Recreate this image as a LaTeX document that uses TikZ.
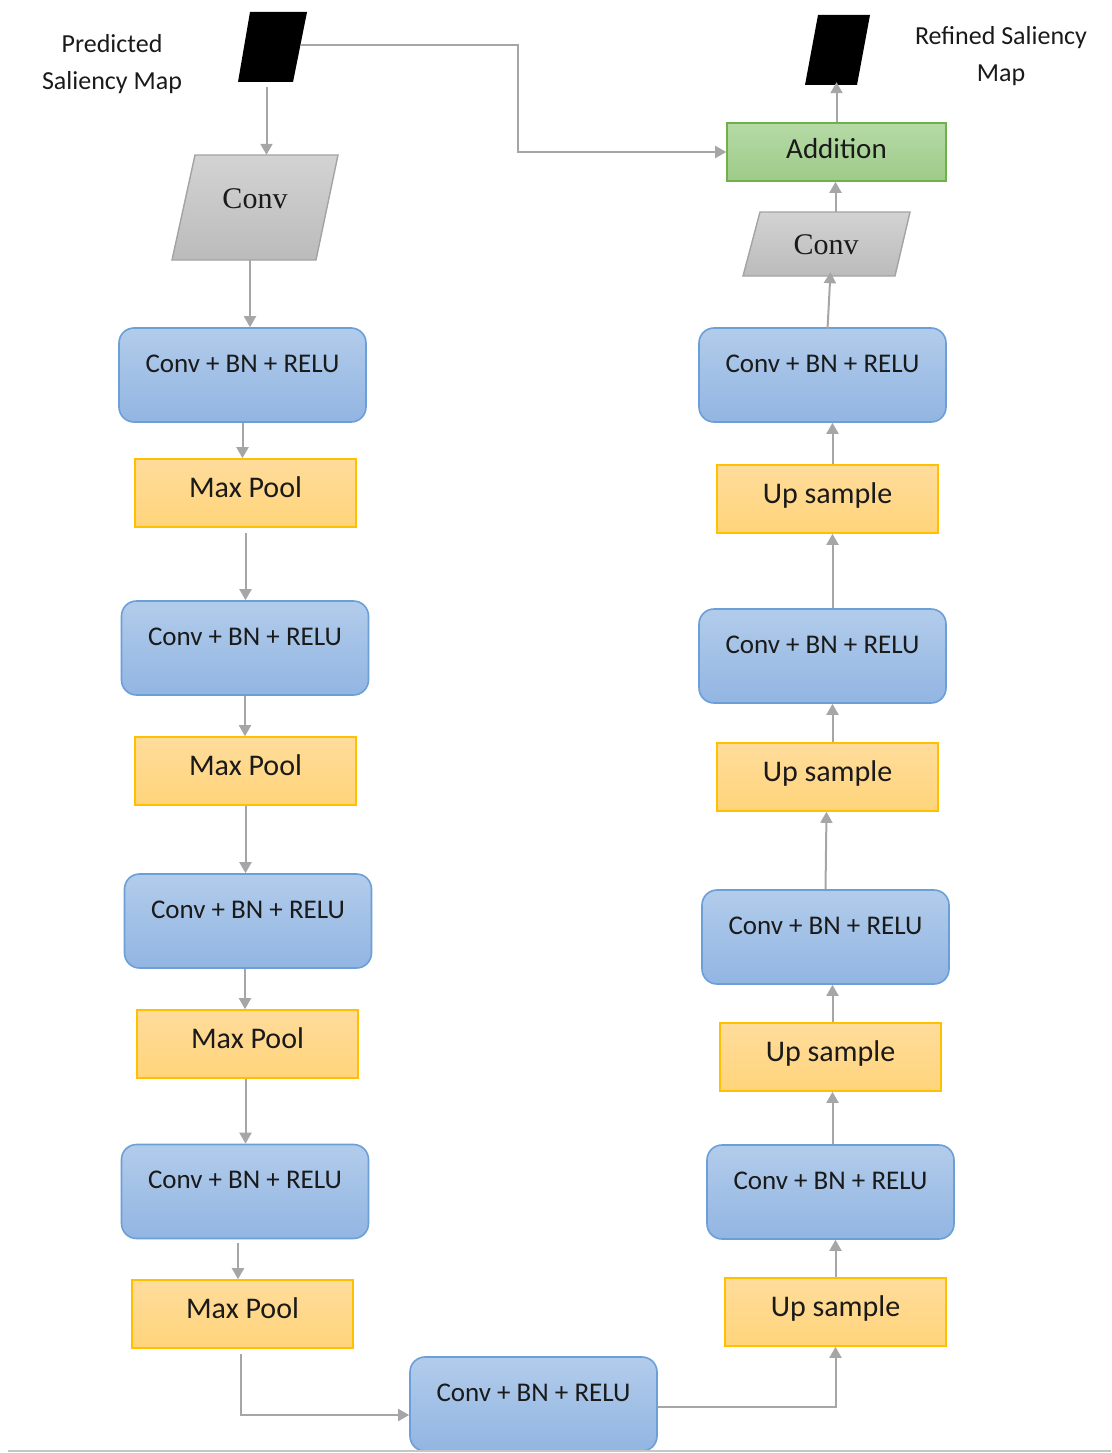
\documentclass[tikz,border=0pt]{standalone}
\usepackage{fontspec}
\setmainfont{Carlito}
\newfontfamily\convfont{Liberation Serif}
\usetikzlibrary{arrows.meta,calc}

\definecolor{blueTop}{HTML}{B2CCEB}
\definecolor{blueBot}{HTML}{92B5E2}
\definecolor{blueEdge}{HTML}{6C9FD8}
\definecolor{yelTop}{HTML}{FFDC9C}
\definecolor{yelBot}{HTML}{FFD47A}
\definecolor{yelEdge}{HTML}{FFC000}
\definecolor{grnTop}{HTML}{B6DAA7}
\definecolor{grnBot}{HTML}{9DCB88}
\definecolor{grnEdge}{HTML}{70B048}
\definecolor{gryTop}{HTML}{D3D3D3}
\definecolor{gryBot}{HTML}{BBBBBB}
\definecolor{gryEdge}{HTML}{A3A3A3}
\definecolor{wire}{HTML}{A6A6A6}
\definecolor{ink}{HTML}{1A1A1A}

\tikzset{
  cbr/.style={draw=blueEdge, line width=1.6pt, top color=blueTop, bottom color=blueBot,
    rounded corners=15pt, inner sep=0pt, minimum width=247pt,
    text height=44pt, text depth=50pt, text=ink, font=\fontsize{27}{30}\selectfont},
  poolbox/.style={draw=yelEdge, line width=1.6pt, top color=yelTop, bottom color=yelBot,
    inner sep=0pt, minimum width=221pt, text height=38pt, text depth=30pt,
    text=ink, font=\fontsize{30}{32}\selectfont},
  addbox/.style={draw=grnEdge, line width=1.6pt, top color=grnTop, bottom color=grnBot,
    inner sep=0pt, minimum width=219pt, text height=35pt, text depth=23pt,
    text=ink, font=\fontsize{29}{32}\selectfont},
  convtext/.style={inner sep=0pt, text=ink, font=\convfont\fontsize{30}{34}\selectfont},
  convshape/.style={draw=gryEdge, line width=1.4pt, top color=gryTop, bottom color=gryBot},
  mapshape/.style={fill=black},
  caption/.style={align=center, inner sep=0pt, text=ink, font=\fontsize{26}{37}\selectfont},
  arr/.style={draw=wire, line width=2pt, -{Triangle[width=12pt,length=11pt]}},
}

\begin{document}
\begin{tikzpicture}[x=1pt,y=-1pt]
\useasboundingbox (0,0) rectangle (1111,1453);

% ---- input saliency map and first convolution ----
\path[mapshape] (250,12) -- (307,12) -- (293,82) -- (238,82) -- cycle;
\node[inner sep=0pt, minimum width=69pt, minimum height=70pt] (pm) at (272.5,47) {};
\coordinate (pmR) at (301,45);
\node[caption] (pmlabel) at (112,64) {Predicted\\Saliency Map};

\path[convshape] (195,155) -- (338,155) -- (316,260) -- (172,260) -- cycle;
\node[inner sep=0pt, minimum width=166pt, minimum height=105pt] (conv1) at (255,207.5) {};
\node[convtext] (conv1t) at (255,199) {Conv};

% ---- encoder ----
\node[cbr]     (l1)  at (242.5,375)  {Conv + BN + RELU};
\node[poolbox] (lp1) at (245.5,493)  {Max Pool};
\node[cbr]     (l2)  at (245,648)    {Conv + BN + RELU};
\node[poolbox] (lp2) at (245.5,771)  {Max Pool};
\node[cbr]     (l3)  at (248,921)    {Conv + BN + RELU};
\node[poolbox] (lp3) at (247.5,1044) {Max Pool};
\node[cbr]     (l4)  at (245,1191.5) {Conv + BN + RELU};
\node[poolbox] (lp4) at (242.5,1314) {Max Pool};

% ---- bottleneck ----
\node[cbr] (b) at (533.5,1404) {Conv + BN + RELU};

% ---- decoder ----
\node[poolbox] (rp4) at (835.5,1312) {Up sample};
\node[cbr]     (r4)  at (830.5,1192) {Conv + BN + RELU};
\node[poolbox] (rp3) at (830.5,1057) {Up sample};
\node[cbr]     (r3)  at (825.5,937)  {Conv + BN + RELU};
\node[poolbox] (rp2) at (827.5,777)  {Up sample};
\node[cbr]     (r2)  at (822.5,656)  {Conv + BN + RELU};
\node[poolbox] (rp1) at (827.5,499)  {Up sample};
\node[cbr]     (r1)  at (822.5,375)  {Conv + BN + RELU};

% ---- output convolution, addition and refined map ----
\path[convshape] (760,212) -- (910,212) -- (895,276) -- (743,276) -- cycle;
\node[inner sep=0pt, minimum width=167pt, minimum height=64pt] (conv2) at (826.5,244) {};
\node[convtext] (conv2t) at (826,245) {Conv};

\node[addbox] (add) at (836.5,152) {Addition};

\path[mapshape] (818,15) -- (870,15) -- (857,85) -- (805,85) -- cycle;
\node[inner sep=0pt, minimum width=65pt, minimum height=70pt] (out) at (837.5,50) {};
\node[caption] (outlabel) at (1001,56) {Refined Saliency\\Map};

% ---- connectors ----
\draw[arr] ([xshift=-6pt,yshift=-5pt]pm.south) -- ([xshift=-6pt]pm.south |- conv1.north);
\draw[arr] (pmR) -- ++(217,0) |- (add.west);
\draw[arr] ([xshift=-5pt]conv1.south) -- ([xshift=-5pt]conv1.south |- l1.north);
\draw[arr] (l1.south) -- (l1.south |- lp1.north);
\draw[arr] ([yshift=-5pt]lp1.south) -- (lp1.south |- l2.north);
\draw[arr] (l2.south) -- (l2.south |- lp2.north);
\draw[arr] (lp2.south) -- (lp2.south |- l3.north);
\draw[arr] ([xshift=-3pt]l3.south) -- ([xshift=-3pt]l3.south |- lp3.north);
\draw[arr] ([xshift=-2pt]lp3.south) -- ([xshift=-2pt]lp3.south |- l4.north);
\draw[arr] ([xshift=-7pt,yshift=-4pt]l4.south) -- ([xshift=-7pt]l4.south |- lp4.north);
\draw[arr] ([xshift=-2pt,yshift=-5pt]lp4.south) |- ([yshift=-11pt]b.west);
\draw[arr] ([yshift=-3pt]b.east) -| (rp4.south);
\draw[arr] (rp4.north) -- (rp4.north |- r4.south);
\draw[arr] ([xshift=2pt]r4.north) -- ([xshift=2pt]r4.north |- rp3.south);
\draw[arr] ([xshift=2pt]rp3.north) -- ([xshift=2pt]rp3.north |- r3.south);
\draw[arr] (r3.north) -- ([xshift=1pt]r3.north |- rp2.south);
\draw[arr] ([xshift=5pt]rp2.north) -- ([xshift=5pt]rp2.north |- r2.south);
\draw[arr] ([xshift=10pt]r2.north) -- ([xshift=10pt]r2.north |- rp1.south);
\draw[arr] ([xshift=5pt]rp1.north) -- ([xshift=5pt]rp1.north |- r1.south);
\draw[arr] ([xshift=5pt,yshift=-2pt]r1.north) -- ([xshift=4pt,yshift=4pt]conv2.south);
\draw[arr] ([xshift=9pt]conv2.north) -- ([xshift=9pt]conv2.north |- add.south);
\draw[arr] (add.north) -- ([yshift=3pt]add.north |- out.south);

% ---- baseline rule ----
\coordinate (ruleL) at (8,1451);
\coordinate (ruleR) at (1111,1451);
\draw[draw=gray!45, line width=2pt] (ruleL) -- (ruleR);
\end{tikzpicture}
\end{document}
